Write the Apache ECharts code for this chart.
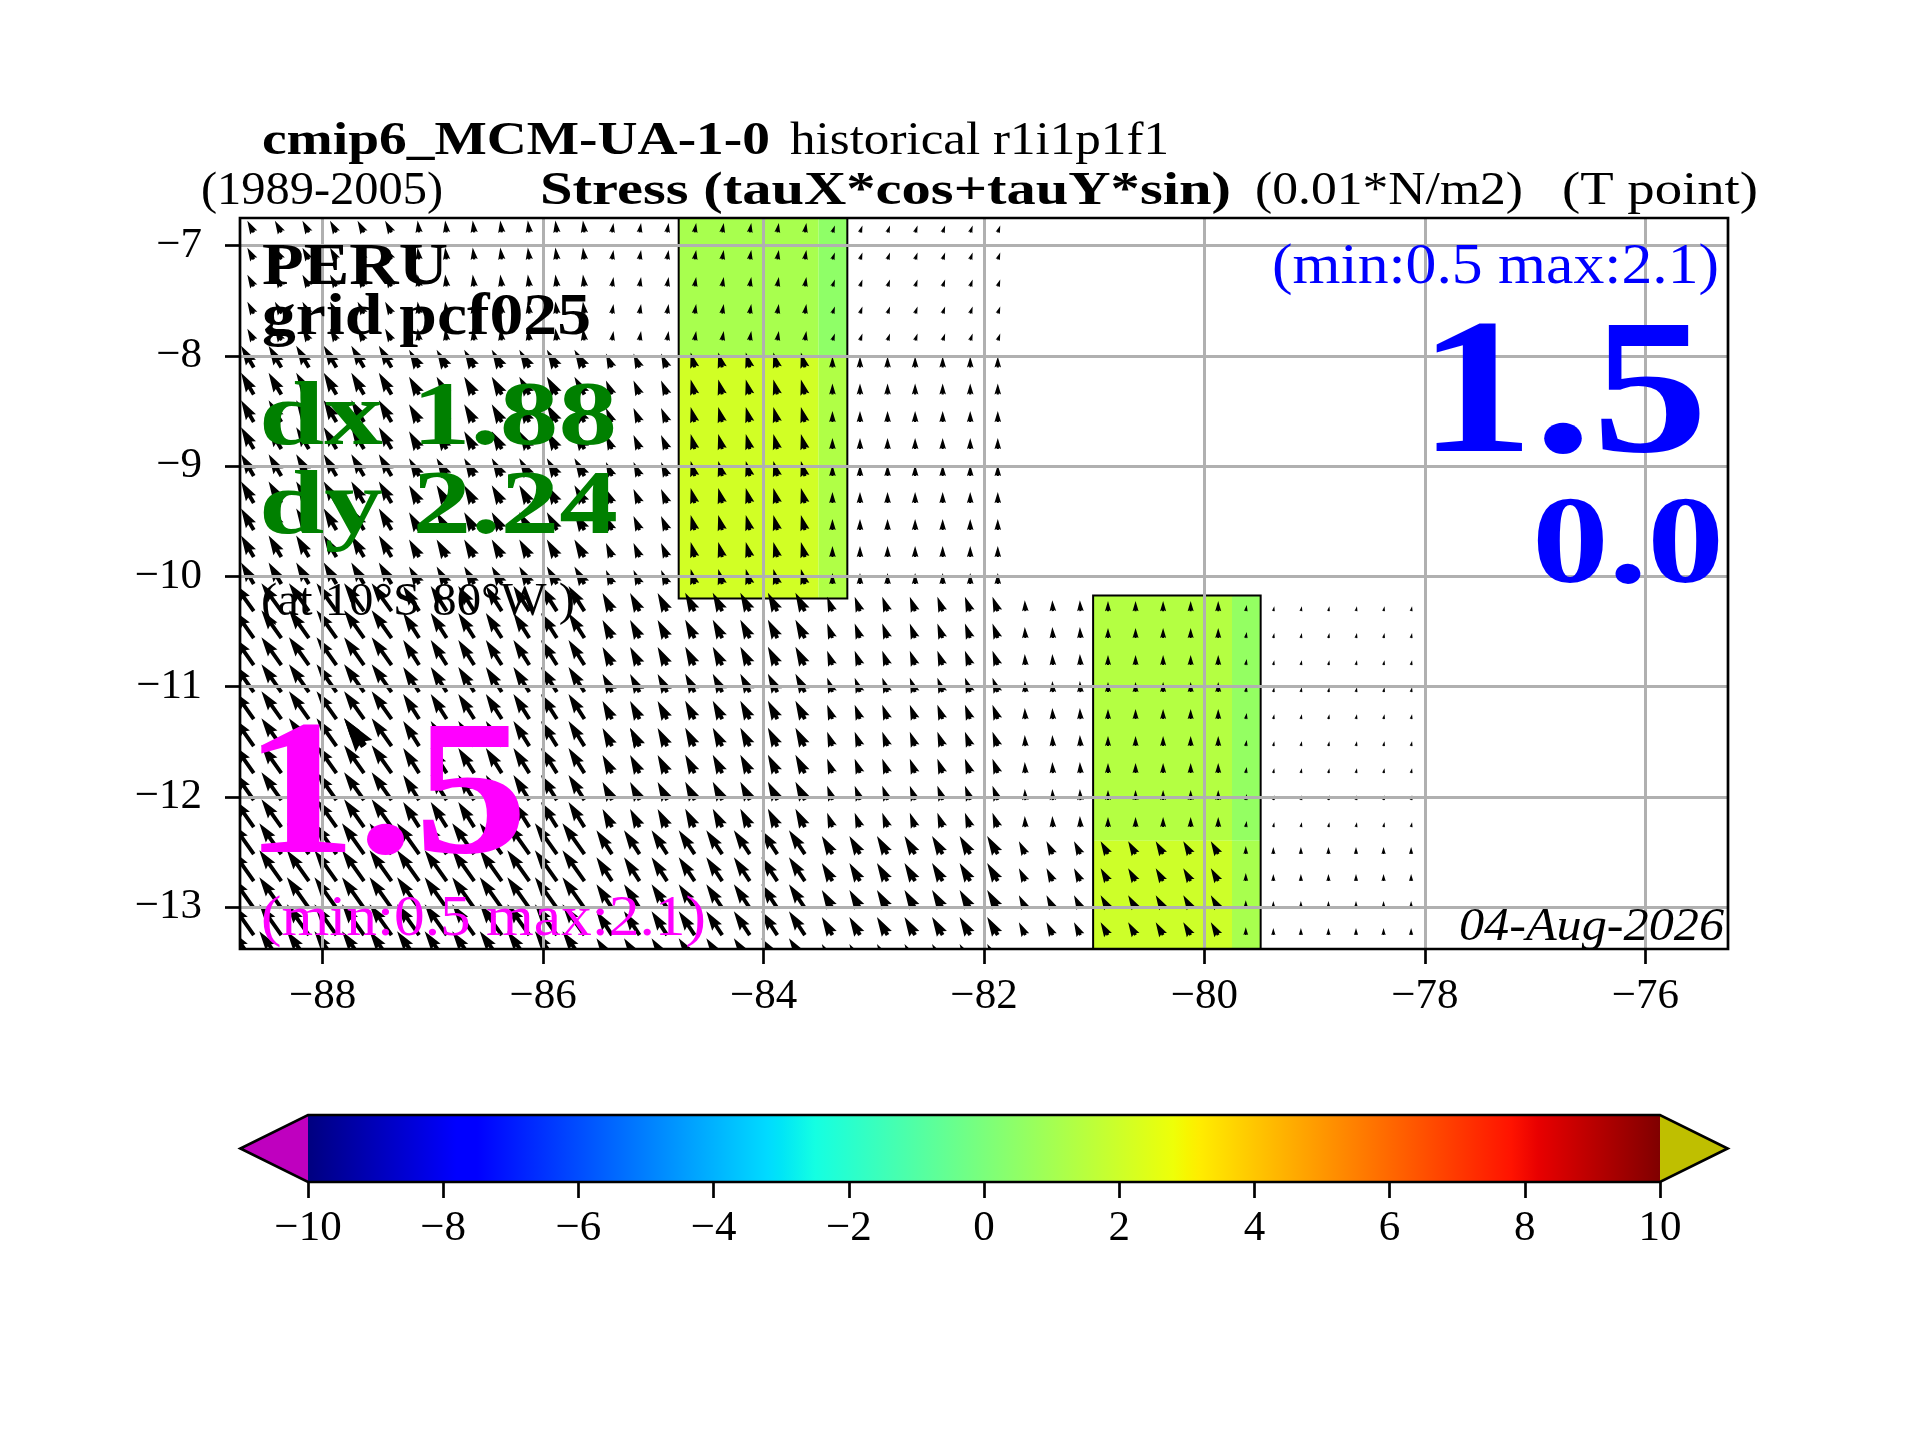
<!DOCTYPE html>
<html><head><meta charset="utf-8">
<style>html,body{margin:0;padding:0;background:#fff}#c{width:1920px;height:1440px}</style>
<script src="https://cdn.jsdelivr.net/npm/echarts@6/dist/echarts.min.js"></script>
</head><body><div id="c"></div>
<script>
// ---------- data ----------
const xTicks = [-88,-86,-84,-82,-80,-78,-76];
const yTicks = [-13,-12,-11,-10,-9,-8,-7];
const cbarTicks = [-10,-8,-6,-4,-2,0,2,4,6,8,10];

// arrow rows (latitude of the arrow tails), north to south
const arrowLats = [-6.88,-7.125,-7.37,-7.616,-7.86,-8.105,-8.35,-8.60,-8.845,-9.09,-9.335,-9.58,-9.825,-10.07,
  -10.316,-10.56,-10.805,-11.05,-11.295,-11.54,-11.785,-12.03,-12.275,-12.52,-12.765,-13.01,-13.255,-13.50];
// arrow columns (longitude of the arrow tails)
const arrowLons = [-88.625,-88.375,-88.125,-87.875,-87.625,-87.375,-87.125,-86.875,-86.625,-86.375,-86.125,-85.875,-85.625,
  -85.375,-85.125,-84.875,-84.625,-84.375,-84.125,-83.875,-83.625,-83.375,-83.125,-82.875,-82.625,-82.375,-82.125,-81.875,
  -81.625,-81.375,-81.125,-80.875,-80.625,-80.375,-80.125,-79.875,-79.625,-79.375,-79.125,-78.875,-78.625,-78.375,-78.125];
// western edge of each zone of constant stress
const zoneWest = [-88.625,-87.125,-85.375,-84.625,-83.375,-81.625,-80.875,-79.625,-79.375];
const bandNorth = [-6.8,-8.0,-10.2,-12.4]; // northern edge of each latitude band
const bandEast = [-81.875,-81.875,-78.125,-78.125]; // last arrow column in each band
const uBand0 = [-0.34,-0.08, 0.08, 0.08, 0.13];
const vBand0 = [ 0.62, 0.63, 0.50, 0.50, 0.37];
const uBand1 = [-0.67,-0.53,-0.32,-0.21, 0.00];
const vBand1 = [ 1.14, 0.93, 0.74, 0.79, 0.58];
const uBand2 = [-1.05,-0.84,-0.50,-0.50,-0.28,-0.03, 0.00, 0.05, 0.05];
const vBand2 = [ 1.47, 1.32, 0.95, 0.97, 0.76, 0.58, 0.53, 0.32, 0.26];
const uBand3 = [-1.16,-1.16,-0.82,-0.84,-0.56,-0.34,-0.39, 0.00, 0.00];
const vBand3 = [ 1.63, 1.63, 1.26, 1.26, 0.95, 0.68, 0.68, 0.42, 0.37];
const thickArrows = [[-87.625,-11.54],[-85.125,-11.54]];

// filled cells: lon west, lon east, lat north, lat south, value
const cells = [
  [-84.77,-83.5,-6.0,-8.0,1.1],[-83.5,-83.24,-6.0,-8.0,0.5],
  [-84.77,-83.5,-8.0,-10.2,2.1],[-83.5,-83.24,-8.0,-10.2,1.3],
  [-81.01,-79.75,-10.175,-12.4,1.4],[-79.75,-79.49,-10.175,-12.4,0.6],
  [-81.01,-79.75,-12.4,-14.0,2.0],[-79.75,-79.49,-12.4,-14.0,1.1]
];
const blocks = [[-84.77,-83.24,-6.0,-10.2],[-81.01,-79.49,-10.175,-14.0]];

// jet colour map: position in 0..1, colour
const jetStops = [[0,'#000080'],[0.11,'#0000ff'],[0.125,'#0000ff'],[0.34,'#00dbff'],[0.35,'#00e5f7'],[0.375,'#14ffe2'],
  [0.64,'#eeff08'],[0.65,'#f7f600'],[0.66,'#ffec00'],[0.89,'#ff1300'],[0.91,'#e80000'],[1,'#800000']];
const cbarRange = [-10,10];
const under = '#bf00bf', over = '#bfbf00';

// text: string, left, right, baseline, size, weight, style, colour
const SERIF = '"Liberation Serif","Times New Roman",serif';
const texts = [
  ['cmip6_MCM-UA-1-0',262,770,154.5,46,'bold','normal','#000'],
  ['historical r1i1p1f1',790,1169,154.5,46,'normal','normal','#000'],
  ['(1989-2005)',201,443,204.5,46,'normal','normal','#000'],
  ['Stress (tauX*cos+tauY*sin)',540,1231,204.5,46,'bold','normal','#000'],
  ['(0.01*N/m2)',1255,1523,204.5,46,'normal','normal','#000'],
  ['(T point)',1562,1758,204.5,46,'normal','normal','#000'],
  ['PERU',262,448,285,60,'bold','normal','#000'],
  ['grid pcf025',262,591,335,60,'bold','normal','#000'],
  ['dx 1.88',259,617,445,91,'bold','normal','#008000'],
  ['dy 2.24',259,618,534,91,'bold','normal','#008000'],
  ['(at 10°S 80°W )',261,575,615,46,'normal','normal','#000'],
  ['1.5',243,528,854,192,'bold','normal','#ff00ff'],
  ['(min:0.5 max:2.1)',261,706,935,58,'normal','normal','#ff00ff'],
  ['(min:0.5 max:2.1)',1272,1719,283,58,'normal','normal','#0000ff'],
  ['1.5',1418,1708,453,192,'bold','normal','#0000ff'],
  ['0.0',1532,1724,583,125,'bold','normal','#0000ff'],
  ['04-Aug-2026',1459,1724,940,46,'normal','italic','#000']
];

// ---------- build ----------
const uBands=[uBand0,uBand1,uBand2,uBand3], vBands=[vBand0,vBand1,vBand2,vBand3];
const arrows=[];
arrowLats.forEach(lat=>{
  let b=0; bandNorth.forEach((n,i)=>{ if(lat<=n) b=i; });
  arrowLons.forEach(lon=>{
    if(lon>bandEast[b]) return;
    let z=0; zoneWest.forEach((w,i)=>{ if(lon>=w) z=i; });
    if(z>=uBands[b].length) z=uBands[b].length-1;
    arrows.push([lon,lat,uBands[b][z],vBands[b][z],3.9]);
  });
});
thickArrows.forEach(t=>{
  arrows.slice().forEach(a=>{ if(a[0]===t[0]&&a[1]===t[1]) arrows.push([a[0],a[1],a[2],a[3],7]); });
});
function hex(c){return [1,3,5].map(i=>parseInt(c.substr(i,2),16));}
function jet(v){
  const x=(v-cbarRange[0])/(cbarRange[1]-cbarRange[0]);
  for(let i=1;i<jetStops.length;i++){
    if(x<=jetStops[i][0]){
      const t=(x-jetStops[i-1][0])/(jetStops[i][0]-jetStops[i-1][0]);
      const a=hex(jetStops[i-1][1]),b=hex(jetStops[i][1]);
      return 'rgb('+a.map((q,k)=>Math.round(q+(b[k]-q)*t)).join(',')+')';
    }
  }
  return jetStops[jetStops.length-1][1];
}
const PX_PER_UNIT=19;
function quiverShape(tail,u,v,w){
  const dx=u*PX_PER_UNIT, dy=-v*PX_PER_UNIT;
  const L=Math.hypot(dx,dy)/w, HL=5,HA=4.5,HW=3;
  let xs,ys;
  if(L<HL){
    const s=L/HL;
    xs=[0,(HL-HA)*s,0,HL*s]; ys=[.5*s,.5*s,.5*HW*s,0];
  }else{
    xs=[0,L-HA,L-HL,L]; ys=[.5,.5,.5*HW,0];
  }
  const X=[xs[0],xs[1],xs[2],xs[3],xs[2],xs[1],xs[0]];
  const Y=[ys[0],ys[1],ys[2],ys[3],-ys[2],-ys[1],-ys[0]];
  const c=dx/(L*w),sn=dy/(L*w);
  return X.map((x,i)=>[tail[0]+w*(x*c-Y[i]*sn),tail[1]+w*(x*sn+Y[i]*c)]);
}
const measure=document.createElement('canvas').getContext('2d');
const graphics=texts.map(t=>{
  const font=t[6]+' '+t[5]+' '+t[4]+'px '+SERIF;
  measure.font=font;
  const sx=(t[2]-t[1])/measure.measureText(t[0]).width;
  return {type:'text',z:20,x:t[1],y:t[3]-0.27*t[4],scaleX:sx,silent:true,
    style:{text:t[0],font:font,fill:t[7],textAlign:'left',textVerticalAlign:'middle'}};
});
const minus=v=>String(v).replace('-','\u2212');
const tickFont={fontFamily:SERIF,fontSize:43,color:'#000'};
const chart=echarts.init(document.getElementById('c'),null,{renderer:'canvas',width:1920,height:1440});
const lineW=2.7;
chart.setOption({
  animation:false,backgroundColor:'#fff',
  grid:[
    {left:240,top:218,width:1488,height:731,show:true,borderColor:'#000',borderWidth:lineW,backgroundColor:'transparent',z:4},
    {left:308,top:1115,width:1352,height:67,show:false}
  ],
  xAxis:[
    {type:'value',gridIndex:0,min:-88.75,max:-75.25,z:3,
     axisLine:{show:false},
     axisTick:{show:true,length:15,lineStyle:{color:'#000',width:lineW},customValues:xTicks},
     axisLabel:{...tickFont,margin:26,customValues:xTicks,formatter:minus,hideOverlap:false},
     splitLine:{show:true,lineStyle:{color:'#b0b0b0',width:3}}},
    {type:'value',gridIndex:1,min:cbarRange[0],max:cbarRange[1],z:6,position:'bottom',
     axisLine:{show:false},
     axisTick:{show:true,length:16,lineStyle:{color:'#000',width:lineW},customValues:cbarTicks},
     axisLabel:{...tickFont,margin:25,customValues:cbarTicks,formatter:minus,hideOverlap:false},
     splitLine:{show:false}}
  ],
  yAxis:[
    {type:'value',gridIndex:0,min:-13.381,max:-6.749,z:3,
     axisLine:{show:false},
     axisTick:{show:true,length:15,lineStyle:{color:'#000',width:lineW},customValues:yTicks},
     axisLabel:{...tickFont,margin:38,padding:[10,0,0,0],customValues:yTicks,formatter:minus,hideOverlap:false},
     splitLine:{show:true,lineStyle:{color:'#b0b0b0',width:3}}},
    {type:'value',gridIndex:1,min:0,max:1,show:false}
  ],
  graphic:{elements:graphics},
  series:[
    {type:'custom',name:'cells',xAxisIndex:0,yAxisIndex:0,z:1,clip:true,silent:true,
     encode:{x:0,y:2},data:cells,
     renderItem:(p,api)=>{
       const a=api.coord([api.value(0),api.value(2)]),b=api.coord([api.value(1),api.value(3)]);
       return {type:'rect',shape:{x:a[0],y:a[1],width:b[0]-a[0],height:b[1]-a[1]},style:{fill:jet(api.value(4))}};
     }},
    {type:'custom',name:'block outlines',xAxisIndex:0,yAxisIndex:0,z:1,clip:true,silent:true,
     encode:{x:0,y:2},data:blocks,
     renderItem:(p,api)=>{
       const a=api.coord([api.value(0),api.value(2)]),b=api.coord([api.value(1),api.value(3)]);
       return {type:'rect',z2:5,shape:{x:a[0],y:a[1],width:b[0]-a[0],height:b[1]-a[1]},style:{fill:'none',stroke:'#000',lineWidth:2}};
     }},
    {type:'custom',name:'stress',xAxisIndex:0,yAxisIndex:0,z:2,clip:true,silent:true,
     encode:{x:0,y:1},data:arrows,
     renderItem:(p,api)=>{
       const tail=api.coord([api.value(0),api.value(1)]);
       return {type:'polygon',shape:{points:quiverShape(tail,api.value(2),api.value(3),api.value(4))},style:{fill:'#000'}};
     }},
    {type:'custom',name:'colorbar',xAxisIndex:1,yAxisIndex:1,z:5,silent:true,
     encode:{x:0},data:[[cbarRange[0],cbarRange[1]]],
     renderItem:(p,api)=>{
       const lo=api.value(0),hi=api.value(1),span=hi-lo;
       const c=(x,y)=>api.coord([x,y]);
       const a=c(lo,1),b=c(hi,0),tipL=c(lo-span*0.05,0.5),tipR=c(hi+span*0.05,0.5);
       const stops=jetStops.map(s=>({offset:s[0],color:s[1]}));
       return {type:'group',children:[
         {type:'rect',shape:{x:a[0],y:a[1],width:b[0]-a[0],height:b[1]-a[1]},
          style:{fill:new echarts.graphic.LinearGradient(0,0,1,0,stops)}},
         {type:'polygon',shape:{points:[[a[0],a[1]],tipL,[a[0],b[1]]]},style:{fill:under}},
         {type:'polygon',shape:{points:[[b[0],a[1]],tipR,[b[0],b[1]]]},style:{fill:over}},
         {type:'polygon',shape:{points:[[a[0],a[1]],[b[0],a[1]],tipR,[b[0],b[1]],[a[0],b[1]],tipL]},
          style:{fill:'none',stroke:'#000',lineWidth:lineW,lineJoin:'miter'}}
       ]};
     }}
  ]
});
</script></body></html>
